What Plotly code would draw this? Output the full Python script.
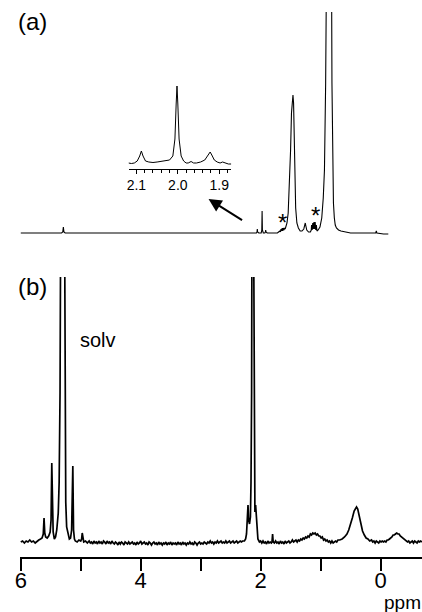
import plotly.graph_objects as go

# ---------------- data (ppm, intensity) ----------------
# Panel (b) spectrum, segments
b_seg1 = [(6.00, 0), (5.97, 1), (5.94, -1), (5.91, 1), (5.88, 0), (5.85, 2), (5.82, 0), (5.79, 1),
          (5.76, -1), (5.73, 1), (5.70, 2), (5.67, 3), (5.645, 4), (5.625, 8), (5.612, 24), (5.60, 9),
          (5.585, 5), (5.56, 4), (5.535, 6), (5.51, 10), (5.495, 22), (5.483, 79), (5.473, 24),
          (5.46, 10), (5.44, 3), (5.42, 5), (5.40, 12), (5.375, 29), (5.36, 60), (5.345, 150),
          (5.33, 400), (5.30, 900), (5.275, 400), (5.265, 120), (5.25, 40), (5.235, 15), (5.21, 7),
          (5.19, 3), (5.17, 4), (5.152, 12), (5.132, 76), (5.12, 12), (5.105, 3), (5.09, 1),
          (5.06, 0), (5.03, 2), (5.00, 1), (4.985, 3), (4.975, 9), (4.965, 2), (4.95, 0),
          (4.92, 1), (4.89, -1)]
b_seg2 = [(4.86, 1), (4.84, -1), (4.82, 0), (4.80, -2), (4.78, 1), (4.76, -1), (4.74, 0), (4.72, -2),
          (4.70, 1), (4.68, -1), (4.66, 0), (4.64, -2), (4.62, 1), (4.60, 0), (4.58, -2), (4.56, 1),
          (4.54, -1), (4.52, 0), (4.50, -2), (4.48, 1), (4.46, -1), (4.44, -2), (4.42, 0), (4.40, -1),
          (4.38, -3), (4.36, 0), (4.34, -2), (4.32, 0), (4.30, -1), (4.28, -3), (4.26, 0), (4.24, -1),
          (4.22, -2), (4.20, 0), (4.18, -2), (4.16, -1), (4.14, 0), (4.12, -2), (4.10, -1), (4.08, -3),
          (4.06, 0), (4.04, -2), (4.02, -1), (4.00, 1), (3.98, -2), (3.96, -1), (3.94, 0), (3.92, -2),
          (3.90, -1), (3.88, -3), (3.86, 0), (3.84, -1), (3.82, -3), (3.80, -1), (3.78, 0), (3.76, -2),
          (3.74, -1), (3.72, -3), (3.70, 0), (3.68, -2), (3.66, -1), (3.64, -3), (3.62, -1), (3.60, -2),
          (3.58, 0), (3.56, -3), (3.54, -1), (3.52, -2), (3.50, 0), (3.48, -3), (3.46, -1), (3.44, -2),
          (3.42, -1), (3.40, -3), (3.38, 0), (3.36, -2), (3.34, -1), (3.32, -3), (3.30, 0), (3.28, -2),
          (3.26, -1), (3.24, -3), (3.22, -1), (3.20, -2), (3.18, 0), (3.16, -2), (3.14, -1), (3.12, -3),
          (3.10, 0), (3.08, -1), (3.06, -3), (3.04, -1), (3.02, 0), (3.00, -2), (2.98, -1), (2.96, -2),
          (2.94, 0), (2.92, -1), (2.90, -2), (2.88, 0), (2.86, -1), (2.84, 1), (2.82, -1), (2.80, 0),
          (2.78, -2), (2.76, 0), (2.74, -1), (2.72, 1), (2.70, -1), (2.68, 0), (2.66, 1), (2.64, -1),
          (2.62, 0), (2.60, -1), (2.58, 1), (2.56, -1), (2.54, 0), (2.52, 1), (2.50, -1), (2.48, 0),
          (2.46, 1), (2.44, -1), (2.42, 0), (2.40, 1), (2.38, -1), (2.36, 0), (2.34, 1), (2.32, 0),
          (2.30, 1)]
b_seg3 = [(2.27, 1), (2.25, 3), (2.235, 8), (2.22, 20), (2.21, 37), (2.20, 22), (2.185, 18),
          (2.17, 25), (2.16, 60), (2.15, 150), (2.135, 500), (2.125, 900), (2.115, 300), (2.105, 60),
          (2.095, 30), (2.083, 37), (2.072, 25), (2.06, 8), (2.045, 3), (2.02, 0), (2.00, 1)]
b_seg4 = [(1.98, -1), (1.96, 1), (1.94, -1), (1.92, 0), (1.90, -2), (1.88, 1), (1.86, -1), (1.84, 0),
          (1.82, -1), (1.81, 0), (1.80, 8), (1.79, 0), (1.77, -1), (1.75, 1), (1.73, -1), (1.71, 0),
          (1.69, -2), (1.67, 1), (1.65, -1), (1.63, 0), (1.61, -2), (1.59, 1), (1.57, -1), (1.55, 0),
          (1.53, 1), (1.51, -1), (1.49, 0), (1.47, 2), (1.45, 0), (1.43, 1)]
b_seg5 = [(1.41, 2), (1.39, 0), (1.37, 2), (1.35, 1), (1.33, 3), (1.31, 2), (1.29, 4), (1.27, 3),
          (1.25, 5), (1.23, 4), (1.21, 6), (1.19, 5), (1.17, 8), (1.15, 7), (1.13, 9), (1.11, 8),
          (1.09, 9), (1.07, 7), (1.05, 8), (1.03, 6), (1.01, 6), (0.99, 4), (0.97, 5), (0.95, 2),
          (0.93, 3), (0.91, 1), (0.89, 2), (0.87, 0), (0.85, 1), (0.83, -1), (0.81, 1), (0.79, -1),
          (0.77, 0), (0.75, 1), (0.73, 0), (0.71, 2)]
b_seg6 = [(0.68, 2), (0.64, 3), (0.60, 5), (0.56, 8), (0.53, 12), (0.50, 17), (0.47, 24), (0.44, 31),
          (0.42, 34), (0.40, 35), (0.38, 33), (0.36, 27), (0.33, 18), (0.30, 11), (0.27, 7),
          (0.24, 4), (0.21, 3), (0.18, 1), (0.15, 2)]
b_seg7 = [(0.13, 0), (0.11, 1), (0.09, -1), (0.07, 1), (0.05, 0), (0.03, -1), (0.01, 1), (-0.01, 0),
          (-0.03, 1), (-0.05, 0), (-0.07, 1), (-0.09, 0), (-0.11, 2), (-0.13, 2), (-0.15, 3),
          (-0.17, 4), (-0.19, 5), (-0.21, 7), (-0.23, 7), (-0.25, 8), (-0.27, 9), (-0.29, 8),
          (-0.31, 8), (-0.33, 6), (-0.35, 5), (-0.37, 4), (-0.39, 3), (-0.41, 2), (-0.43, 1),
          (-0.45, 0), (-0.47, 1), (-0.49, -1), (-0.51, 0), (-0.53, 1), (-0.55, -1), (-0.57, 1),
          (-0.59, 0), (-0.61, -1), (-0.63, 1), (-0.65, 0), (-0.67, 1), (-0.69, 0)]

# Panel (a) spectrum
a_spec = [(6.00, 0), (5.50, 0), (5.32, 0), (5.30, 1), (5.29, 6), (5.28, 1), (5.26, 0), (4.50, 0),
          (3.50, 0), (2.50, 0), (2.10, 0), (2.07, 0), (2.06, 1), (2.055, 4), (2.05, 1), (2.03, 0),
          (1.99, 0), (1.98, 3), (1.975, 22), (1.97, 3), (1.955, 0), (1.93, 0), (1.92, 1), (1.915, 3),
          (1.91, 1), (1.89, 0), (1.80, 0), (1.72, 0), (1.70, 1), (1.68, 2), (1.67, 1), (1.66, 4),
          (1.65, 2), (1.64, 5), (1.63, 2), (1.62, 5), (1.61, 3), (1.60, 5), (1.59, 4), (1.575, 7),
          (1.56, 10), (1.54, 20), (1.52, 45), (1.50, 83), (1.485, 120), (1.47, 135), (1.46, 138),
          (1.45, 130), (1.44, 100), (1.43, 60), (1.415, 25), (1.395, 10), (1.37, 5), (1.34, 2),
          (1.31, 2), (1.28, 4), (1.265, 7), (1.255, 10), (1.245, 7), (1.23, 3), (1.20, 1), (1.17, 1),
          (1.155, 3), (1.15, 8), (1.14, 3), (1.13, 10), (1.12, 4), (1.11, 11), (1.10, 4), (1.09, 11),
          (1.08, 3), (1.07, 8), (1.06, 2), (1.04, 3), (1.01, 6), (0.98, 15), (0.955, 35), (0.935, 63),
          (0.915, 150), (0.895, 400), (0.86, 600), (0.825, 400), (0.81, 150), (0.80, 63), (0.785, 30),
          (0.77, 15), (0.755, 8), (0.735, 5), (0.70, 3), (0.66, 2), (0.60, 1), (0.50, 0), (0.30, 0),
          (0.10, 0), (0.08, 0), (0.07, 2), (0.06, 0), (-0.05, -1), (-0.13, -1)]

# Inset (expanded 2.0 ppm region)
inset_spec = [(2.119, 1), (2.112, 0.5), (2.105, 1), (2.098, 3), (2.092, 8), (2.088, 13), (2.084, 8),
              (2.078, 3), (2.07, 2), (2.06, 1.5), (2.05, 2), (2.04, 2.5), (2.03, 3), (2.02, 4),
              (2.012, 8), (2.007, 25), (2.004, 60), (2.002, 78), (2.000, 60), (1.997, 25),
              (1.992, 8), (1.986, 3), (1.98, 1), (1.975, 1), (1.968, 2.5), (1.962, 1), (1.955, 1),
              (1.945, 2), (1.935, 4), (1.928, 9), (1.922, 12), (1.918, 9), (1.912, 4), (1.905, 2),
              (1.898, 1), (1.892, 2), (1.885, 1), (1.878, 0), (1.871, 0)]

main_tickvals = [6, 5, 4, 3, 2, 1, 0]
main_ticktext = ["6", "", "4", "", "2", "", "0"]
inset_tickvals = [2.1, 2.0, 1.9]
inset_ticktext = ["2.1", "2.0", "1.9"]

# ---------------- figure ----------------
W, H = 422, 612
FONT = "Liberation Sans, Arial, sans-serif"

def px_x(p):
    return p / W

def px_y(p):
    return 1 - p / H

b_all = b_seg1 + b_seg2 + b_seg3 + b_seg4 + b_seg5 + b_seg6 + b_seg7

fig = go.Figure()
fig.add_trace(go.Scatter(x=[p for p, _ in b_all], y=[v for _, v in b_all], mode="lines",
                         line=dict(color="black", width=1.7), xaxis="x", yaxis="y",
                         hoverinfo="skip"))
fig.add_trace(go.Scatter(x=[p for p, _ in a_spec], y=[v for _, v in a_spec], mode="lines",
                         line=dict(color="black", width=1.1), xaxis="x2", yaxis="y2",
                         hoverinfo="skip"))
fig.add_trace(go.Scatter(x=[p for p, _ in inset_spec], y=[v for _, v in inset_spec], mode="lines",
                         line=dict(color="black", width=1), xaxis="x3", yaxis="y3",
                         hoverinfo="skip"))

xrange_main = [6.016, -0.692]

fig.update_layout(
    width=W, height=H, margin=dict(l=0, r=0, t=0, b=0),
    paper_bgcolor="white", plot_bgcolor="white", showlegend=False,
    font=dict(family=FONT, color="black"),
    xaxis=dict(domain=[px_x(15), 1], range=xrange_main, anchor="y",
               showline=True, linewidth=2, linecolor="black", ticks="outside",
               ticklen=12, tickwidth=2, tickcolor="black",
               tickmode="array", tickvals=main_tickvals, ticktext=main_ticktext,
               tickfont=dict(size=22, family=FONT, color="black"),
               ticklabelstandoff=-9,
               showgrid=False, zeroline=False),
    yaxis=dict(domain=[px_y(557), px_y(277)], range=[-15, 265], visible=False),
    xaxis2=dict(domain=[px_x(15), 1], range=xrange_main, anchor="y2", visible=False),
    yaxis2=dict(domain=[px_y(240), px_y(12)], range=[-7, 221], visible=False),
    xaxis3=dict(domain=[px_x(125), px_x(229)], range=[2.119, 1.871], anchor="y3",
                showline=True, linewidth=1, linecolor="black", ticks="outside",
                ticklen=4, tickwidth=1, tickcolor="black",
                tickmode="array", tickvals=inset_tickvals, ticktext=inset_ticktext,
                tickfont=dict(size=14, family=FONT, color="black"),
                ticklabelstandoff=-1,
                minor=dict(dtick=0.02, tick0=1.9, ticks="outside", ticklen=3, tickwidth=1,
                           tickcolor="black", showgrid=False),
                showgrid=False, zeroline=False),
    yaxis3=dict(domain=[px_y(169), px_y(79)], range=[-5, 85], visible=False),
)

ann = []
ann.append(dict(text="(a)", xref="paper", yref="paper", x=px_x(28), y=px_y(22),
                xanchor="center", yanchor="middle", showarrow=False,
                font=dict(size=24, family=FONT, color="black")))
ann.append(dict(text="(b)", xref="paper", yref="paper", x=px_x(28), y=px_y(286),
                xanchor="center", yanchor="middle", showarrow=False,
                font=dict(size=24, family=FONT, color="black")))
ann.append(dict(text="solv", xref="paper", yref="paper", x=px_x(94), y=px_y(340),
                xanchor="center", yanchor="middle", showarrow=False,
                font=dict(size=20, family=FONT, color="black")))
ann.append(dict(text="ppm", xref="paper", yref="paper", x=px_x(382), y=px_y(602),
                xanchor="left", yanchor="middle", showarrow=False,
                font=dict(size=19, family=FONT, color="black")))
ann.append(dict(text="*", xref="x2", yref="y2", x=1.63, y=11,
                xanchor="center", yanchor="middle", showarrow=False,
                font=dict(size=24, family=FONT, color="black")))
ann.append(dict(text="*", xref="x2", yref="y2", x=1.09, y=18,
                xanchor="center", yanchor="middle", showarrow=False,
                font=dict(size=24, family=FONT, color="black")))
ann.append(dict(text="", xref="x2", yref="y2", x=2.868, y=34, ax=35, ay=22,
                showarrow=True, arrowhead=2, arrowsize=1.3, arrowwidth=2,
                arrowcolor="black"))
fig.update_layout(annotations=ann)

fig.write_html("out.html", config={"displayModeBar": False},
               post_script="document.body.style.margin='0px';")
